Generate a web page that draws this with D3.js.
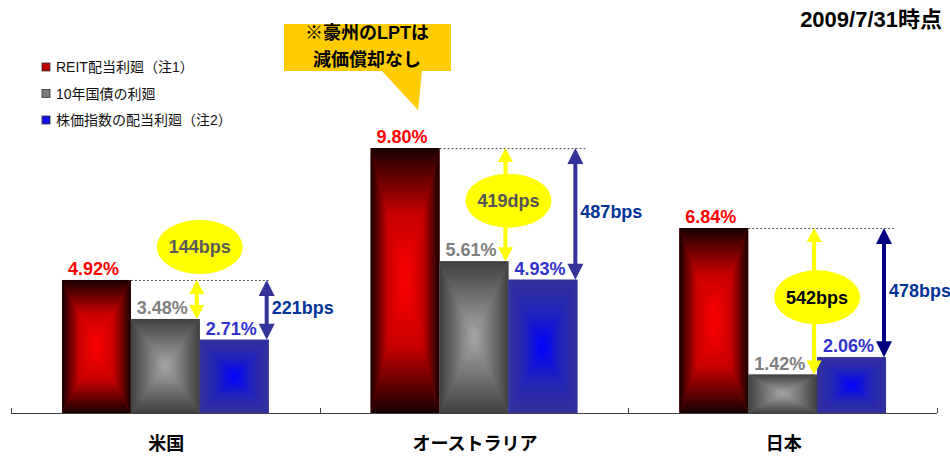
<!DOCTYPE html>
<html>
<head>
<meta charset="utf-8">
<script src="https://cdn.jsdelivr.net/npm/d3@7"></script>
<style>
  html, body { margin: 0; padding: 0; background: #fff; }
  svg { display: block; font-family: "Liberation Sans", Arial, "Noto Sans CJK JP", sans-serif; }
</style>
</head>
<body>
<svg id="chart" width="950" height="456"></svg>
<script>
// ---- data ----
const categories = ["米国", "オーストラリア", "日本"];
const seriesNames = ["REIT配当利廻（注1）", "10年国債の利廻", "株価指数の配当利廻（注2）"];
const reitYield = [4.92, 9.80, 6.84];
const bondYield = [3.48, 5.61, 1.42];
const stockYield = [2.71, 4.93, 2.06];
const bondSpreadLabels = ["144bps", "419dps", "542bps"];
const stockSpreadLabels = ["221bps", "487bps", "478bps"];
const titleText = "2009/7/31時点";
const calloutLines = ["※豪州のLPTは", "減価償却なし"];

// ---- styles ----
const seriesEdge = ["#180000", "#404040", "#333399"];
const seriesMidStop = ["#c80000", "#747474", "#2222bb"];
const seriesCenter = ["#ff0000", "#a8a8a8", "#0000ff"];
const seriesMid = ["#9a0000", "#6a6a6a", "#2626b8"];
const labelColors = ["#ff0000", "#808080", "#3333cc"];
const legendFill = ["#c00000", "#7a7a7a", "#1010e0"];
const ellipseTextColors = ["#5a5a5a", "#555555", "#000000"];
const stockArrowColors = ["#333399", "#333399", "#000080"];
const stockTextColor = "#003399";

const svg = d3.select("#chart");
const defs = svg.append("defs");

// scales
const x0 = d3.scaleBand().domain(categories).range([11, 937]).paddingInner(0).paddingOuter(0);
const x1 = d3.scaleBand().domain([0, 1, 2]).range([0, x0.bandwidth()]).paddingInner(0).paddingOuter(0.74);
const y = d3.scaleLinear().domain([0, 12]).range([413, 413 - 12 * 27.04]);

// gradients: 4 directions per series
const dirs = {
  top: { x1: 0, y1: 0, x2: 0, y2: 1 },
  bottom: { x1: 0, y1: 1, x2: 0, y2: 0 },
  left: { x1: 0, y1: 0, x2: 1, y2: 0 },
  right: { x1: 1, y1: 0, x2: 0, y2: 0 }
};
seriesEdge.forEach((edge, s) => {
  Object.entries(dirs).forEach(([k, d]) => {
    const g = defs.append("linearGradient").attr("id", `g${s}${k}`)
      .attr("x1", d.x1).attr("y1", d.y1).attr("x2", d.x2).attr("y2", d.y2);
    g.append("stop").attr("offset", 0).attr("stop-color", edge);
    g.append("stop").attr("offset", 0.5).attr("stop-color", seriesMidStop[s]);
    g.append("stop").attr("offset", 1).attr("stop-color", seriesCenter[s]);
  });
});

const allSeries = [reitYield, bondYield, stockYield];

// bars
const barData = [];
categories.forEach((c, i) => {
  allSeries.forEach((arr, s) => {
    barData.push({ c, i, s, v: arr[i] });
  });
});

function drawBar(g, d) {
  const xL = x0(d.c) + x1(d.s);
  const w = x1.bandwidth();
  const xR = xL + w;
  const yT = y(d.v);
  const yB = y(0);
  const cx = xL + w / 2, cy = (yT + yB) / 2;
  g.append("rect").attr("x", xL).attr("y", yT).attr("width", w).attr("height", yB - yT)
    .attr("fill", seriesMid[d.s]);
  const tris = {
    top: [[xL, yT], [xR, yT], [cx, cy]],
    bottom: [[xL, yB], [xR, yB], [cx, cy]],
    left: [[xL, yT], [xL, yB], [cx, cy]],
    right: [[xR, yT], [xR, yB], [cx, cy]]
  };
  Object.entries(tris).forEach(([k, pts]) => {
    g.append("polygon").attr("points", pts.map(p => p.join(",")).join(" "))
      .attr("fill", `url(#g${d.s}${k})`);
  });
}
const barsG = svg.append("g");
barData.forEach(d => drawBar(barsG.append("g"), d));

// axis
const axisG = svg.append("g");
axisG.append("line").attr("x1", x0.range()[0]).attr("x2", x0.range()[1])
  .attr("y1", y(0) + 0.5).attr("y2", y(0) + 0.5).attr("stroke", "#404040").attr("stroke-width", 1);
const bounds = categories.map(c => x0(c)).concat([x0(categories[categories.length - 1]) + x0.bandwidth()]);
axisG.selectAll("line.tick").data(bounds).enter().append("line")
  .attr("x1", d => Math.round(d) + 0.5).attr("x2", d => Math.round(d) + 0.5)
  .attr("y1", y(0) - 5).attr("y2", y(0)).attr("stroke", "#404040");
axisG.selectAll("text.cat").data(categories).enter().append("text")
  .attr("x", d => x0(d) + x0.bandwidth() / 2 + 1)
  .attr("y", 450)
  .attr("text-anchor", "middle").attr("font-size", 18).attr("font-weight", "bold").attr("fill", "#000")
  .text(d => d);

// value labels
svg.append("g").selectAll("text").data(barData).enter().append("text")
  .attr("x", d => x0(d.c) + x1(d.s) + x1.bandwidth() / 2 - 3)
  .attr("y", d => y(d.v) - 5)
  .attr("text-anchor", "middle").attr("font-size", 18).attr("font-weight", "bold")
  .attr("fill", d => labelColors[d.s])
  .text(d => d.v.toFixed(2) + "%");

// arrows
function vArrow(g, x, yTop, yBot, color, headW, headL, shaftW) {
  g.append("line").attr("x1", x).attr("x2", x).attr("y1", yTop + headL - 1).attr("y2", yBot - headL + 1)
    .attr("stroke", color).attr("stroke-width", shaftW);
  g.append("polygon").attr("points", `${x},${yTop} ${x - headW / 2},${yTop + headL} ${x + headW / 2},${yTop + headL}`)
    .attr("fill", color);
  g.append("polygon").attr("points", `${x},${yBot} ${x - headW / 2},${yBot - headL} ${x + headW / 2},${yBot - headL}`)
    .attr("fill", color);
}

const annG = svg.append("g");
categories.forEach((c, i) => {
  const redTop = y(reitYield[i]);
  const bondTop = y(bondYield[i]);
  const stockTop = y(stockYield[i]);
  const redRight = x0(c) + x1(0) + x1.bandwidth();
  const bondRight = x0(c) + x1(1) + x1.bandwidth();
  const stockRight = x0(c) + x1(2) + x1.bandwidth();
  const blueX = stockRight - 2;
  const yelX = bondRight - 3;

  // dashed reference line
  annG.append("line").attr("x1", redRight).attr("x2", blueX + (i === 0 ? 2 : 10))
    .attr("y1", Math.round(redTop) + 0.5).attr("y2", Math.round(redTop) + 0.5)
    .attr("stroke", "#555").attr("stroke-width", 1).attr("stroke-dasharray", "2,2");

  // yellow arrow
  vArrow(annG, yelX, redTop, bondTop, "#ffff00", 15, 14, 4);
  // blue arrow
  vArrow(annG, blueX, redTop, stockTop, stockArrowColors[i], 16, 16, 4);

  // ellipse with bond spread
  const gap = bondTop - redTop;
  const ey = gap < 60 ? redTop - 33 : (redTop + bondTop) / 2 - 4;
  annG.append("ellipse").attr("cx", yelX + 3).attr("cy", ey).attr("rx", 43).attr("ry", 27)
    .attr("fill", "#ffff00");
  annG.append("text").attr("x", yelX + 3).attr("y", ey + 6.5)
    .attr("text-anchor", "middle").attr("font-size", 18).attr("font-weight", "bold")
    .attr("fill", ellipseTextColors[i]).text(bondSpreadLabels[i]);

  // stock spread label
  annG.append("text").attr("x", blueX + 5).attr("y", (redTop + stockTop) / 2 + 4.5)
    .attr("font-size", 18).attr("font-weight", "bold").attr("fill", stockTextColor)
    .text(stockSpreadLabels[i]);
});

// legend
const legG = svg.append("g");
seriesNames.forEach((n, s) => {
  const ly = 67 + s * 26.5;
  legG.append("rect").attr("x", 42).attr("y", ly - 4).attr("width", 8).attr("height", 8)
    .attr("fill", legendFill[s]).attr("stroke", "#333").attr("stroke-width", 0.8);
  legG.append("text").attr("x", 56).attr("y", ly + 5).attr("font-size", 14).attr("fill", "#111").text(n);
});

// title
svg.append("text").attr("x", 942).attr("y", 27).attr("text-anchor", "end")
  .attr("font-size", 22).attr("font-weight", "bold").attr("fill", "#000").text(titleText);

// callout
const calG = svg.append("g");
calG.append("path")
  .attr("d", "M284,24 L451,24 L451,71 L422,71 L418,110 L382,71 L284,71 Z")
  .attr("fill", "#ffcc00");
calloutLines.forEach((t, k) => {
  calG.append("text").attr("x", 367).attr("y", 39 + k * 27).attr("text-anchor", "middle")
    .attr("font-size", 18).attr("font-weight", "bold").attr("fill", "#000").text(t);
});
</script>
</body>
</html>
